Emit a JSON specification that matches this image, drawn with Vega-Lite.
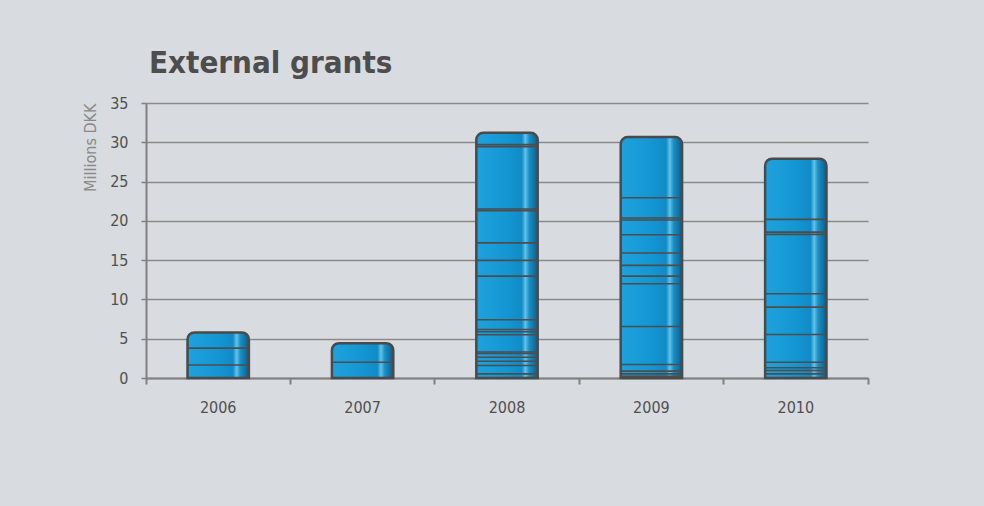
{
  "$schema": "https://vega.github.io/schema/vega-lite/v6.json",
  "width": 722,
  "height": 275,
  "autosize": {"type": "none"},
  "padding": {"left": 146, "top": 103, "right": 116, "bottom": 128},
  "background": "#d8dbdf",
  "title": {
    "text": "External grants",
    "anchor": "start",
    "frame": "group",
    "baseline": "alphabetic",
    "offset": -9,
    "dx": 3,
    "font": "Liberation Sans Narrow, DejaVu Sans Condensed, sans-serif",
    "fontSize": 31,
    "fontWeight": "bold",
    "color": "#4d4d4d"
  },
  "config": {
    "view": {"stroke": null},
    "font": "Liberation Sans Narrow, DejaVu Sans Condensed, sans-serif",
    "axisY": {
      "title": "Millions DKK",
      "titleAnchor": "end",
      "titleFontSize": 16,
      "titleFontWeight": "normal",
      "titleColor": "#8a8a8a",
      "titlePadding": 11,
      "labelFontSize": 16,
      "labelColor": "#505050",
      "labelPadding": 13,
      "tickSize": 5,
      "tickColor": "#808080",
      "tickWidth": 1.5,
      "domainColor": "#808080",
      "domainWidth": 2,
      "gridColor": "#8a8a8a",
      "gridWidth": 1.5,
      "gridOpacity": 1
    }
  },
  "datasets": {
    "segs": [
      {"year": "2006", "seg": 1, "amount": 1.65},
      {"year": "2006", "seg": 2, "amount": 2.15},
      {"year": "2006", "seg": 3, "amount": 2.0},
      {"year": "2007", "seg": 1, "amount": 2.0},
      {"year": "2007", "seg": 2, "amount": 2.43},
      {"year": "2008", "seg": 1, "amount": 0.53},
      {"year": "2008", "seg": 2, "amount": 1.06},
      {"year": "2008", "seg": 3, "amount": 0.55},
      {"year": "2008", "seg": 4, "amount": 0.51},
      {"year": "2008", "seg": 5, "amount": 0.47},
      {"year": "2008", "seg": 6, "amount": 0.18},
      {"year": "2008", "seg": 7, "amount": 2.2},
      {"year": "2008", "seg": 8, "amount": 0.38},
      {"year": "2008", "seg": 9, "amount": 0.3},
      {"year": "2008", "seg": 10, "amount": 1.23},
      {"year": "2008", "seg": 11, "amount": 5.56},
      {"year": "2008", "seg": 12, "amount": 2.0},
      {"year": "2008", "seg": 13, "amount": 2.23},
      {"year": "2008", "seg": 14, "amount": 4.1},
      {"year": "2008", "seg": 15, "amount": 0.2},
      {"year": "2008", "seg": 16, "amount": 7.95},
      {"year": "2008", "seg": 17, "amount": 0.25},
      {"year": "2008", "seg": 18, "amount": 1.5},
      {"year": "2009", "seg": 1, "amount": 0.23},
      {"year": "2009", "seg": 2, "amount": 0.3},
      {"year": "2009", "seg": 3, "amount": 0.34},
      {"year": "2009", "seg": 4, "amount": 0.85},
      {"year": "2009", "seg": 5, "amount": 4.84},
      {"year": "2009", "seg": 6, "amount": 5.44},
      {"year": "2009", "seg": 7, "amount": 0.97},
      {"year": "2009", "seg": 8, "amount": 1.36},
      {"year": "2009", "seg": 9, "amount": 1.57},
      {"year": "2009", "seg": 10, "amount": 2.34},
      {"year": "2009", "seg": 11, "amount": 1.86},
      {"year": "2009", "seg": 12, "amount": 0.26},
      {"year": "2009", "seg": 13, "amount": 2.59},
      {"year": "2009", "seg": 14, "amount": 7.72},
      {"year": "2010", "seg": 1, "amount": 0.53},
      {"year": "2010", "seg": 2, "amount": 0.43},
      {"year": "2010", "seg": 3, "amount": 0.34},
      {"year": "2010", "seg": 4, "amount": 0.71},
      {"year": "2010", "seg": 5, "amount": 3.53},
      {"year": "2010", "seg": 6, "amount": 3.48},
      {"year": "2010", "seg": 7, "amount": 1.7},
      {"year": "2010", "seg": 8, "amount": 7.56},
      {"year": "2010", "seg": 9, "amount": 0.29},
      {"year": "2010", "seg": 10, "amount": 1.62},
      {"year": "2010", "seg": 11, "amount": 7.73}
    ]
  },
  "data": {"name": "segs"},
  "encoding": {
    "x": {
      "field": "year",
      "type": "nominal",
      "scale": {"paddingInner": 0, "paddingOuter": 0},
      "axis": {
        "title": null,
        "labelAngle": 0,
        "bandPosition": 1,
        "tickExtra": true,
        "labelFontSize": 16,
        "labelColor": "#505050",
        "labelPadding": 15,
        "tickSize": 6,
        "tickColor": "#808080",
        "tickWidth": 2,
        "domainColor": "#808080",
        "domainWidth": 2
      }
    }
  },
  "layer": [
    {
      "mark": {
        "type": "bar",
        "width": {"band": 0.425},
        "cornerRadiusTopLeft": 7,
        "cornerRadiusTopRight": 7,
        "stroke": "#4a4a4a",
        "strokeWidth": 2.5,
        "fill": {
          "gradient": "linear",
          "x1": 0, "y1": 0, "x2": 1, "y2": 0,
          "stops": [
            {"offset": 0, "color": "#1ea2dc"},
            {"offset": 0.5, "color": "#1496d2"},
            {"offset": 0.74, "color": "#108bc6"},
            {"offset": 0.8, "color": "#62c2e8"},
            {"offset": 0.86, "color": "#1a8fc6"},
            {"offset": 1, "color": "#0b5e8a"}
          ]
        }
      },
      "encoding": {
        "y": {
          "aggregate": "sum",
          "field": "amount",
          "type": "quantitative",
          "title": "Millions DKK",
          "scale": {"domain": [0, 35]},
          "axis": {"values": [0, 5, 10, 15, 20, 25, 30, 35]}
        }
      }
    },
    {
      "transform": [
        {"stack": "amount", "groupby": ["year"], "sort": [{"field": "seg", "order": "ascending"}], "as": ["y0", "y1"]},
        {"joinaggregate": [{"op": "sum", "field": "amount", "as": "total"}], "groupby": ["year"]},
        {"filter": "datum.y1 < datum.total - 0.001"}
      ],
      "mark": {"type": "tick", "size": 61, "thickness": 1.6, "color": "#4d4d4d", "opacity": 1},
      "encoding": {
        "y": {
          "field": "y1",
          "type": "quantitative",
          "title": "Millions DKK",
          "axis": {"values": [0, 5, 10, 15, 20, 25, 30, 35]}
        }
      }
    }
  ]
}
